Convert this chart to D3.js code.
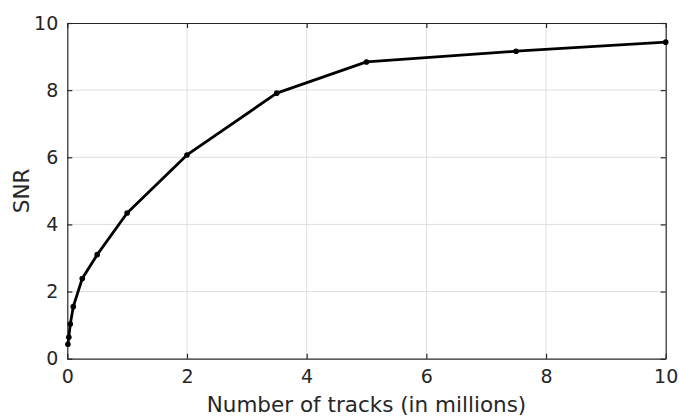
<!DOCTYPE html>
<html><head><meta charset="utf-8">
<script src="https://cdn.jsdelivr.net/npm/d3@7"></script>
<style>body{margin:0;background:#fff}svg{display:block}</style>
</head><body>
<script>
const tracks = [0.01, 0.025, 0.05, 0.1, 0.25, 0.5, 1, 2, 3.5, 5, 7.5, 10];
const snr = [0.43, 0.64, 1.03, 1.55, 2.39, 3.1, 4.34, 6.07, 7.91, 8.84, 9.16, 9.43];
const xTicks = [0, 2, 4, 6, 8, 10];
const yTicks = [0, 2, 4, 6, 8, 10];
const xLabel = "Number of tracks (in millions)";
const yLabel = "SNR";

const W = 679, H = 416;
const m = {l: 67.3, r: 679 - 665.7, t: 23, b: 416 - 358.7};
const svg = d3.select("body").append("svg").attr("width", W).attr("height", H);
const x = d3.scaleLinear().domain([0, 10]).range([m.l, W - m.r]);
const y = d3.scaleLinear().domain([0, 10]).range([H - m.b, m.t]);
const font = "DejaVu Sans, sans-serif";
const axc = "#262626";

// grid
svg.append("g").selectAll("line").data(xTicks.slice(1, -1)).join("line")
  .attr("x1", d => x(d)).attr("x2", d => x(d)).attr("y1", y(0)).attr("y2", y(10))
  .attr("stroke", "#dfdfdf").attr("stroke-width", 1);
svg.append("g").selectAll("line").data(yTicks.slice(1, -1)).join("line")
  .attr("y1", d => y(d)).attr("y2", d => y(d)).attr("x1", x(0)).attr("x2", x(10))
  .attr("stroke", "#dfdfdf").attr("stroke-width", 1);

// axes
const tl = 5;
const gx = svg.append("g").attr("transform", `translate(0,${y(0)})`)
  .call(d3.axisBottom(x).tickValues(xTicks).tickSize(-tl).tickPadding(11).tickSizeOuter(0));
const gy = svg.append("g").attr("transform", `translate(${x(0)},0)`)
  .call(d3.axisLeft(y).tickValues(yTicks).tickSize(-tl).tickPadding(9).tickSizeOuter(0));
const gxt = svg.append("g").attr("transform", `translate(0,${y(10)})`)
  .call(d3.axisTop(x).tickValues(xTicks).tickSize(-tl).tickFormat("").tickSizeOuter(0));
const gyr = svg.append("g").attr("transform", `translate(${x(10)},0)`)
  .call(d3.axisRight(y).tickValues(yTicks).tickSize(-tl).tickFormat("").tickSizeOuter(0));
[gx, gy, gxt, gyr].forEach(g => {
  g.selectAll(".domain").attr("stroke", axc).attr("stroke-width", 1.2);
  g.selectAll(".tick line").attr("stroke", axc).attr("stroke-width", 1.2);
  g.selectAll("text").attr("fill", axc).style("font-family", font).style("font-size", "19px");
});
gx.selectAll("text").attr("dy", "0.71em");

// line
svg.append("path").datum(tracks.map((t, i) => [t, snr[i]]))
  .attr("fill", "none").attr("stroke", "#000").attr("stroke-width", 2.8)
  .attr("stroke-linejoin", "round")
  .attr("d", d3.line().x(d => x(d[0])).y(d => y(d[1])));
svg.append("g").selectAll("circle").data(tracks.map((t, i) => [t, snr[i]])).join("circle")
  .attr("cx", d => x(d[0])).attr("cy", d => y(d[1])).attr("r", 2.8).attr("fill", "#000");

// labels
svg.append("text").attr("x", (x(0) + x(10)) / 2).attr("y", 412)
  .attr("text-anchor", "middle").attr("fill", axc)
  .style("font-family", font).style("font-size", "21.5px").text(xLabel);
svg.append("text").attr("transform", `translate(29,${(y(0) + y(10)) / 2}) rotate(-90)`)
  .attr("text-anchor", "middle").attr("fill", axc)
  .style("font-family", font).style("font-size", "21.5px").text(yLabel);
</script>
</body></html>
